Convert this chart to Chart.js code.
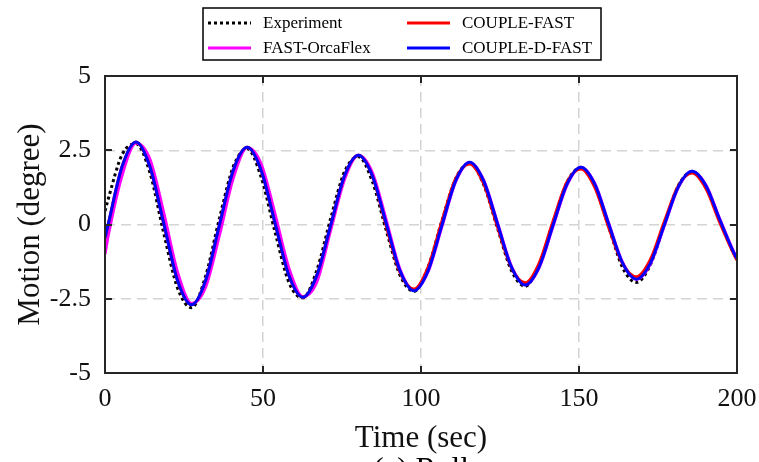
<!DOCTYPE html>
<html>
<head>
<meta charset="utf-8">
<script src="https://cdn.jsdelivr.net/npm/chart.js@4.4.1/dist/chart.umd.min.js"></script>
<style>
  html,body{margin:0;padding:0;background:#fff;}
  #wrap{width:759px;height:462px;}
</style>
</head>
<body>
<div id="wrap"><canvas id="roll" width="759" height="462"></canvas></div>
<script>
// time grid (sec) shared by all series
const times = [0, 1.0, 5.4, 9.8, 14.2, 18.6, 23.0, 27.4, 31.8, 36.2, 40.6, 45.0, 49.4, 53.8, 58.2, 62.6,
  67.0, 71.4, 75.8, 80.2, 84.6, 89.0, 93.4, 97.8, 102.2, 106.6, 111.0, 115.4, 119.8, 124.2, 128.6,
  133.0, 137.4, 141.8, 146.2, 150.6, 155.0, 159.4, 163.8, 168.2, 172.6, 177.0, 181.4, 185.8, 190.2,
  194.6, 199.0, 200];

const experiment = [0.45, 0.85, 2.35, 2.72, 1.75, -0.3, -2.15, -2.8, -1.75, 0.2, 1.95, 2.55, 1.6, -0.25, -1.95, -2.47,
  -1.55, 0.2, 1.78, 2.28, 1.45, -0.2, -1.72, -2.25, -1.45, 0.12, 1.55, 2.06, 1.35, -0.12, -1.55,
  -2.08, -1.35, 0.08, 1.42, 1.92, 1.3, -0.08, -1.45, -1.95, -1.35, 0.0, 1.3, 1.78, 1.28,
  0.12, -0.98, -1.18];

const fastOrcaFlex = [-1.0, -0.39, 1.65, 2.74, 2.2, 0.39, -1.62, -2.66, -2.12, -0.37, 1.56, 2.59, 2.04, 0.36, -1.47, -2.43,
  -1.94, -0.2, 1.52, 2.33, 1.75, 0.15, -1.52, -2.21, -1.6, -0.08, 1.45, 2.09, 1.5, 0.06, -1.4,
  -2.03, -1.45, -0.05, 1.33, 1.93, 1.38, 0.04, -1.28, -1.84, -1.32, -0.04, 1.24, 1.79, 1.32,
  0.17, -0.93, -1.13];

const coupleFast = [-0.45, 0.0, 1.95, 2.78, 1.95, 0.03, -1.9, -2.7, -1.9, -0.02, 1.83, 2.6, 1.83, 0.05, -1.72, -2.45,
  -1.72, -0.03, 1.64, 2.33, 1.64, -0.05, -1.62, -2.17, -1.45, 0.1, 1.55, 2.04, 1.38, -0.08, -1.45,
  -1.96, -1.3, 0.12, 1.43, 1.87, 1.25, -0.1, -1.32, -1.76, -1.18, 0.1, 1.3, 1.73, 1.2,
  0.05, -1.0, -1.2];

const coupleDFast = [-0.45, 0.0, 1.95, 2.78, 1.95, 0.03, -1.9, -2.7, -1.9, -0.02, 1.83, 2.6, 1.83, 0.05, -1.72, -2.45,
  -1.72, -0.03, 1.64, 2.33, 1.64, 0.03, -1.57, -2.23, -1.57, -0.03, 1.48, 2.1, 1.48, 0.03, -1.43,
  -2.04, -1.43, -0.02, 1.36, 1.93, 1.36, 0.02, -1.3, -1.84, -1.3, -0.02, 1.26, 1.79, 1.3,
  0.15, -0.95, -1.15];

const xTicks = [0, 50, 100, 150, 200];
const yTicks = [-5, -2.5, 0, 2.5, 5];
const caption = '(a) Roll';

const SERIF = '"Liberation Serif", "Times New Roman", serif';
const pts = arr => arr.map((v,i)=>({x:times[i], y:v}));

const series = [
  { label:'Experiment',    data:pts(experiment),   borderColor:'#000000', borderDash:[3,3], borderWidth:3, order:3 },
  { label:'FAST-OrcaFlex', data:pts(fastOrcaFlex), borderColor:'#ff00ff', borderWidth:3, order:2 },
  { label:'COUPLE-FAST',   data:pts(coupleFast),   borderColor:'#ff0000', borderWidth:3, order:1 },
  { label:'COUPLE-D-FAST', data:pts(coupleDFast),  borderColor:'#0000ff', borderWidth:3, order:0 }
];

// box, inward ticks, 2x2 legend and the caption
const framePlugin = {
  id:'frame',
  afterDraw(chart){
    const {ctx, chartArea:a, scales:{x, y}} = chart;
    ctx.save();
    ctx.strokeStyle = '#262626'; ctx.lineWidth = 2;
    ctx.strokeRect(a.left, a.top, a.right-a.left, a.bottom-a.top);
    ctx.beginPath();
    xTicks.slice(1,-1).forEach(v=>{
      const px = Math.round(x.getPixelForValue(v));
      ctx.moveTo(px, a.bottom); ctx.lineTo(px, a.bottom-7);
      ctx.moveTo(px, a.top); ctx.lineTo(px, a.top+7);
    });
    yTicks.slice(1,-1).forEach(v=>{
      const py = Math.round(y.getPixelForValue(v));
      ctx.moveTo(a.left, py); ctx.lineTo(a.left+7, py);
      ctx.moveTo(a.right, py); ctx.lineTo(a.right-7, py);
    });
    ctx.stroke();

    // legend
    ctx.fillStyle = '#fff';
    ctx.fillRect(203, 8, 398, 52);
    ctx.strokeStyle = '#000'; ctx.lineWidth = 1.5;
    ctx.strokeRect(203, 8, 398, 52);
    ctx.font = '17px ' + SERIF; ctx.textBaseline = 'middle'; ctx.textAlign = 'left';
    chart.data.datasets.forEach((ds,i)=>{
      const col = Math.floor(i/2), row = i%2;
      const lx = col ? 407 : 208, ty = row ? 48 : 23;
      ctx.beginPath();
      ctx.strokeStyle = ds.borderColor; ctx.lineWidth = ds.borderWidth;
      ctx.setLineDash(ds.borderDash||[]);
      ctx.moveTo(lx, ty); ctx.lineTo(lx+43, ty); ctx.stroke();
      ctx.setLineDash([]);
      ctx.fillStyle = '#000';
      ctx.fillText(ds.label, lx+55, ty+1);
    });

    ctx.font = '31px ' + SERIF; ctx.textAlign = 'center'; ctx.textBaseline = 'alphabetic';
    ctx.fillStyle = '#000';
    ctx.fillText(caption, (a.left+a.right)/2, 479);
    ctx.restore();
  }
};

const gridColor = (lo, hi) => c => (c.tick.value===lo || c.tick.value===hi) ? 'rgba(0,0,0,0)' : '#d4d4d4';

new Chart(document.getElementById('roll'), {
  type:'line',
  data:{ datasets: series.map(s=>({ ...s, pointRadius:0, fill:false, cubicInterpolationMode:'monotone', borderCapStyle:'butt' })) },
  options:{
    responsive:false, animation:false, devicePixelRatio:1,
    layout:{ padding:{ top:76, right:22, left:0, bottom:0 } },
    plugins:{ legend:{ display:false }, tooltip:{ enabled:false } },
    scales:{
      x:{
        type:'linear', min:0, max:200,
        afterFit: s => { s.height = 89; s.paddingLeft = 0; s.paddingRight = 0; },
        afterBuildTicks: s => { s.ticks = xTicks.map(v=>({value:v})); },
        ticks:{ font:{ family:SERIF, size:26 }, color:'#111', padding:11, maxRotation:0, callback: v => String(v) },
        grid:{ color:gridColor(0,200), lineWidth:1.5, drawTicks:false },
        border:{ display:false, dash:[10,6] },
        title:{ display:true, text:'Time (sec)', font:{ family:SERIF, size:31 }, color:'#111', padding:{ top:0, bottom:5 } }
      },
      y:{
        type:'linear', min:-5, max:5,
        afterFit: s => { s.width = 105; s.paddingTop = 0; s.paddingBottom = 0; },
        afterBuildTicks: s => { s.ticks = yTicks.map(v=>({value:v})); },
        ticks:{ font:{ family:SERIF, size:26 }, color:'#111', padding:14, callback: v => String(v) },
        grid:{ color:gridColor(-5,5), lineWidth:1.5, drawTicks:false },
        border:{ display:false, dash:[10,6] },
        title:{ display:true, text:'Motion (degree)', font:{ family:SERIF, size:31 }, color:'#111', padding:{ top:12, bottom:0 } }
      }
    }
  },
  plugins:[framePlugin]
});
</script>
</body>
</html>
